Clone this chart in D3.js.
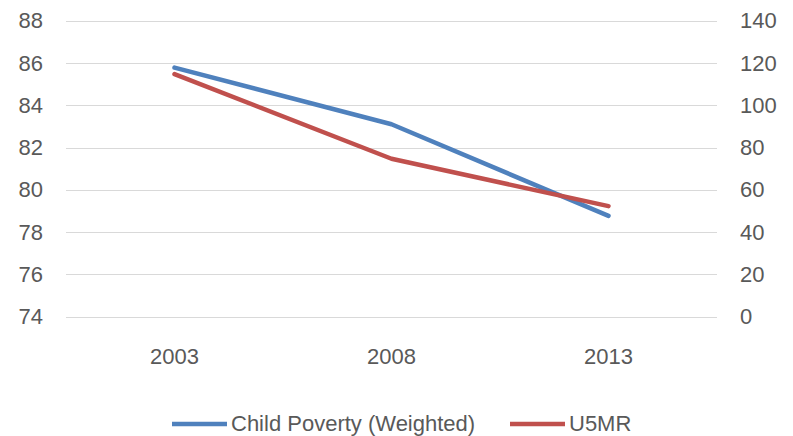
<!DOCTYPE html>
<html><head><meta charset="utf-8">
<script src="https://cdn.jsdelivr.net/npm/d3@7"></script>
<style>body{margin:0;background:#fff}svg{display:block}text{font-family:"Liberation Sans",Arial,sans-serif;fill:#595959}</style>
</head><body>
<svg id="c" width="793" height="436"></svg>
<script>
const categories = ["2003","2008","2013"];
const childPoverty = [85.78, 83.1, 78.77];
const u5mr = [114.7, 74.7, 52.3];
const leftTicks = [74,76,78,80,82,84,86,88];
const rightTicks = [0,20,40,60,80,100,120,140];
const seriesNames = ["Child Poverty (Weighted)","U5MR"];
const colors = ["#4F81BD","#C0504D"];

const svg = d3.select("#c");
const plot = {left:66, right:717, top:20.7, bottom:316.7};
const x = d3.scaleBand().domain(categories).range([plot.left, plot.right]);
const yL = d3.scaleLinear().domain([74,88]).range([plot.bottom, plot.top]);
const yR = d3.scaleLinear().domain([0,140]).range([plot.bottom, plot.top]);
const fs = 22;

// gridlines
svg.append("g").selectAll("line").data(leftTicks).join("line")
  .attr("x1",plot.left).attr("x2",plot.right)
  .attr("y1",d=>Math.round(yL(d))+0.5).attr("y2",d=>Math.round(yL(d))+0.5)
  .attr("stroke","#D9D9D9").attr("stroke-width",1);

// left axis
const gl = svg.append("g").attr("transform",`translate(${plot.left},0)`)
  .call(d3.axisLeft(yL).tickValues(leftTicks).tickSize(0).tickPadding(23));
gl.select(".domain").remove();
gl.selectAll("text").style("font-size",fs+"px").attr("fill","#595959");

// right axis
const gr = svg.append("g").attr("transform",`translate(${plot.right},0)`)
  .call(d3.axisRight(yR).tickValues(rightTicks).tickSize(0).tickPadding(23));
gr.select(".domain").remove();
gr.selectAll("text").style("font-size",fs+"px").attr("fill","#595959");

// bottom axis
const gb = svg.append("g").attr("transform",`translate(0,${plot.bottom})`)
  .call(d3.axisBottom(x).tickSize(0).tickPadding(32));
gb.select(".domain").remove();
gb.selectAll("text").style("font-size",fs+"px").attr("fill","#595959");

const cx = d => x(d) + x.bandwidth()/2;
const lineL = d3.line().x((d,i)=>cx(categories[i])).y(d=>yL(d));
const lineR = d3.line().x((d,i)=>cx(categories[i])).y(d=>yR(d));

svg.append("path").datum(childPoverty).attr("d",lineL)
  .attr("fill","none").attr("stroke",colors[0]).attr("stroke-width",4.5)
  .attr("stroke-linejoin","round").attr("stroke-linecap","round");
svg.append("path").datum(u5mr).attr("d",lineR)
  .attr("fill","none").attr("stroke",colors[1]).attr("stroke-width",4.5)
  .attr("stroke-linejoin","round").attr("stroke-linecap","round");

// legend
const legX = [172, 510];
const legY = 424;
seriesNames.forEach((n,i)=>{
  svg.append("line").attr("x1",legX[i]).attr("x2",legX[i]+55)
    .attr("y1",legY).attr("y2",legY).attr("stroke",colors[i]).attr("stroke-width",4.5);
  svg.append("text").attr("x",legX[i]+59).attr("y",legY).attr("dy","0.3em")
    .style("font-size",fs+"px").text(n);
});
</script>
</body></html>
